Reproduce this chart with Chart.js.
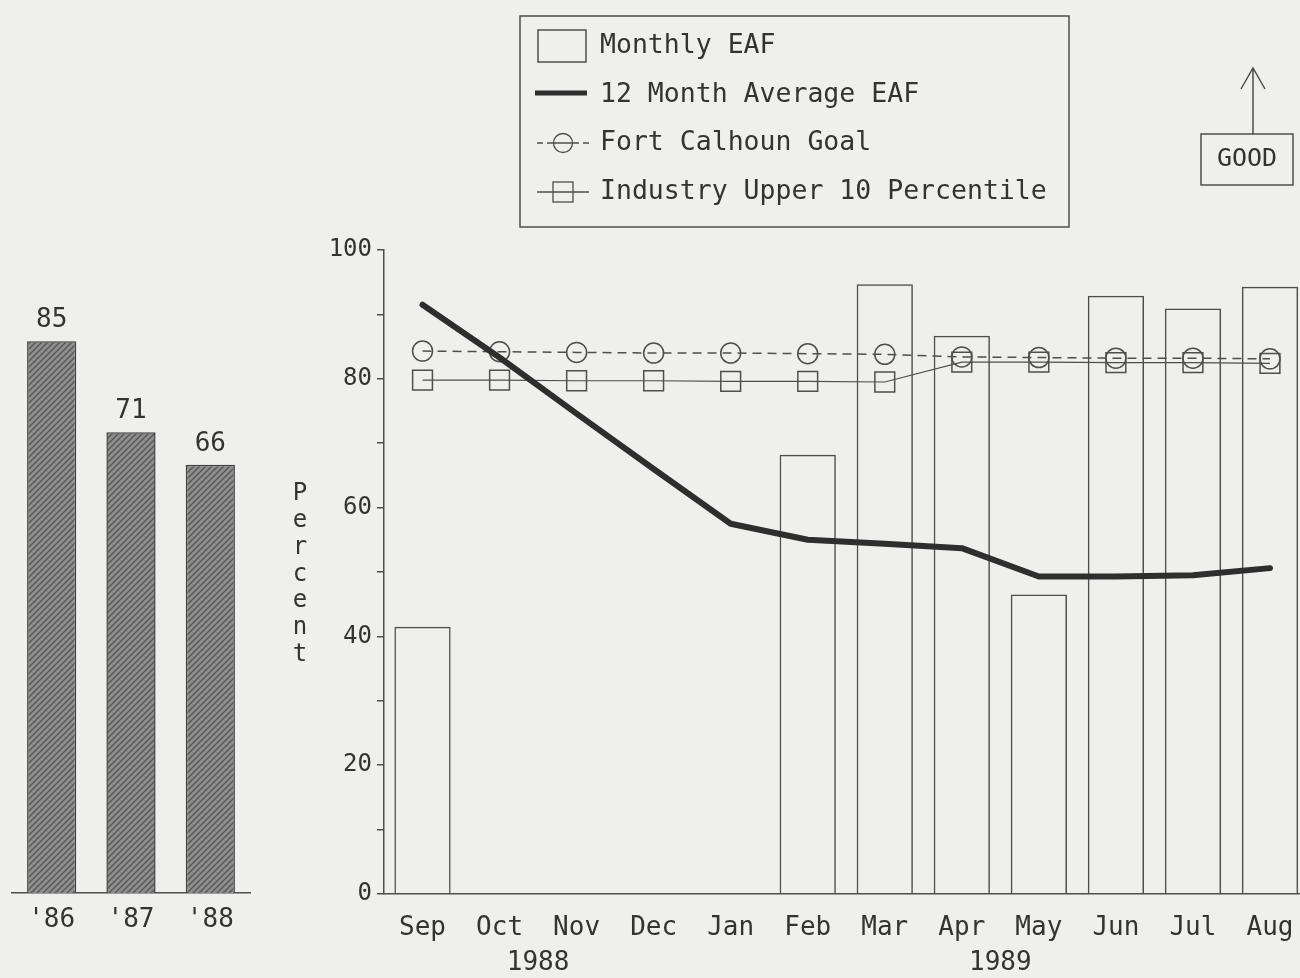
<!DOCTYPE html>
<html>
<head>
<meta charset="utf-8">
<script src="https://cdn.jsdelivr.net/npm/chart.js@4.4.0/dist/chart.umd.min.js"></script>
<style>
  html, body { margin: 0; padding: 0; background: #efefed; overflow: hidden; }
  #wrap { position: relative; width: 1300px; height: 978px; overflow: hidden; background: #efefed; }
  #yearly { position: absolute; left: 0; top: 0; }
  #monthly { position: absolute; left: 260px; top: 0; }
</style>
</head>
<body>
<div id="wrap">
  <canvas id="yearly" width="260" height="978"></canvas>
  <canvas id="monthly" width="1064" height="978"></canvas>
</div>
<script>
// ---- data ----
const yearLabels = ["'86", "'87", "'88"];
const yearlyEAF = [85, 71, 66];

const months = ['Sep', 'Oct', 'Nov', 'Dec', 'Jan', 'Feb', 'Mar', 'Apr', 'May', 'Jun', 'Jul', 'Aug'];
const monthlyEAF = [41.5, null, null, null, null, 68.2, 94.7, 86.7, 46.5, 92.9, 90.9, 94.3];
const avgEAF = [91.5, 83.3, 74.6, 66.0, 57.5, 55.0, 54.4, 53.7, 49.3, 49.3, 49.5, 50.6];
const goalEAF = [84.3, 84.2, 84.1, 84.0, 84.0, 83.9, 83.8, 83.4, 83.3, 83.2, 83.2, 83.1];
const industryEAF = [79.8, 79.8, 79.7, 79.7, 79.6, 79.6, 79.5, 82.6, 82.6, 82.5, 82.5, 82.4];

const yearSpans = ['1988', '1989'];
const yearSpanStart = [0, 4];
const yearSpanEnd = [3, 11];

const seriesNames = ['Monthly EAF', '12 Month Average EAF', 'Fort Calhoun Goal', 'Industry Upper 10 Percentile'];
const axisTitle = 'Percent';
const noteText = 'GOOD';

// ---- styling ----
const FONT = '"DejaVu Sans Mono", "Liberation Mono", monospace';
const INK = '#333333';
const THIN = '#4e4e4e';

// diagonal hatch used on the yearly bars
function makeHatch(ctx) {
  const c = document.createElement('canvas');
  c.width = 6; c.height = 6;
  const g = c.getContext('2d');
  g.fillStyle = '#8e8e8e';
  g.fillRect(0, 0, 6, 6);
  g.strokeStyle = '#555555';
  g.lineWidth = 1.3;
  g.beginPath();
  g.moveTo(0, 6); g.lineTo(6, 0);
  g.moveTo(-3, 3); g.lineTo(3, -3);
  g.moveTo(3, 9); g.lineTo(9, 3);
  g.stroke();
  return ctx.createPattern(c, 'repeat');
}

// value captions above the yearly bars
const barValueLabels = {
  id: 'barValueLabels',
  afterDatasetsDraw(chart) {
    const ctx = chart.ctx;
    const meta = chart.getDatasetMeta(0);
    ctx.save();
    ctx.font = '26px ' + FONT;
    ctx.fillStyle = INK;
    ctx.textAlign = 'center';
    ctx.textBaseline = 'alphabetic';
    meta.data.forEach((bar, i) => {
      ctx.fillText(String(chart.data.datasets[0].data[i]), bar.x, bar.y - 14);
    });
    ctx.restore();
  }
};

const yearlyCanvas = document.getElementById('yearly');
new Chart(yearlyCanvas, {
  type: 'bar',
  data: {
    labels: yearLabels,
    datasets: [{
      data: yearlyEAF,
      backgroundColor: makeHatch(yearlyCanvas.getContext('2d')),
      borderColor: '#404040',
      borderWidth: 1.5,
      barPercentage: 0.62,
      categoryPercentage: 1
    }]
  },
  options: {
    responsive: false,
    animation: false,
    layout: { padding: { top: 244, left: 12, right: 10, bottom: 0 } },
    plugins: { legend: { display: false }, tooltip: { enabled: false } },
    scales: {
      x: {
        grid: { display: false, drawTicks: false },
        border: { display: true, color: THIN, width: 1.5 },
        ticks: { font: { family: FONT, size: 26 }, color: INK, padding: 12 },
        afterFit(s) { s.height = 85; }
      },
      y: { display: false, min: 0, max: 100 }
    }
  },
  plugins: [barValueLabels]
});

// legend, note box, stacked axis title and year captions for the monthly chart
const monthlyExtras = {
  id: 'monthlyExtras',
  afterDraw(chart) {
    const ctx = chart.ctx;
    const ox = -260; // canvas sits 260px from the page's left edge
    ctx.save();
    ctx.fillStyle = INK;
    ctx.strokeStyle = THIN;

    // legend box
    ctx.lineWidth = 1.5;
    ctx.strokeRect(520 + ox, 16, 549, 211);
    ctx.font = '26.5px ' + FONT;
    ctx.textAlign = 'left';
    ctx.textBaseline = 'middle';
    const rowY = [46, 95, 143, 192];
    // bar swatch
    ctx.lineWidth = 1.5;
    ctx.strokeRect(538 + ox, 30, 48, 32);
    // thick line swatch
    ctx.save();
    ctx.strokeStyle = '#2e2e2e';
    ctx.lineWidth = 5;
    ctx.beginPath(); ctx.moveTo(535 + ox, rowY[1] - 2); ctx.lineTo(587 + ox, rowY[1] - 2); ctx.stroke();
    ctx.restore();
    // dashed line with circle
    ctx.lineWidth = 1.3;
    ctx.beginPath();
    ctx.moveTo(537 + ox, rowY[2]); ctx.lineTo(543 + ox, rowY[2]);
    ctx.moveTo(547 + ox, rowY[2]); ctx.lineTo(579 + ox, rowY[2]);
    ctx.moveTo(583 + ox, rowY[2]); ctx.lineTo(589 + ox, rowY[2]);
    ctx.stroke();
    ctx.beginPath(); ctx.arc(563 + ox, rowY[2], 9.5, 0, Math.PI * 2); ctx.stroke();
    // line with square
    ctx.beginPath(); ctx.moveTo(537 + ox, rowY[3]); ctx.lineTo(589 + ox, rowY[3]); ctx.stroke();
    ctx.strokeRect(553 + ox, rowY[3] - 10, 20, 20);
    seriesNames.forEach((name, i) => ctx.fillText(name, 600 + ox, rowY[i]));

    // note box with arrow
    ctx.lineWidth = 1.5;
    ctx.strokeRect(1201 + ox, 134, 92, 51);
    ctx.beginPath();
    ctx.moveTo(1253 + ox, 134); ctx.lineTo(1253 + ox, 68);
    ctx.moveTo(1241 + ox, 89); ctx.lineTo(1253 + ox, 68); ctx.lineTo(1265 + ox, 89);
    ctx.stroke();
    ctx.font = '25px ' + FONT;
    ctx.textAlign = 'center';
    ctx.fillText(noteText, 1247 + ox, 159);

    // vertical stacked axis title
    ctx.font = '24px ' + FONT;
    axisTitle.split('').forEach((ch, i) => ctx.fillText(ch, 300 + ox, 494 + i * 26.8));

    // year captions centred beneath their months
    const xs = chart.scales.x;
    ctx.font = '26px ' + FONT;
    yearSpans.forEach((yr, i) => {
      const cx = (xs.getPixelForValue(yearSpanStart[i]) + xs.getPixelForValue(yearSpanEnd[i])) / 2;
      ctx.fillText(yr, cx, 963);
    });
    ctx.restore();
  }
};

new Chart(document.getElementById('monthly'), {
  data: {
    labels: months,
    datasets: [
      {
        type: 'bar',
        label: seriesNames[0],
        data: monthlyEAF,
        backgroundColor: 'rgba(0,0,0,0)',
        borderColor: THIN,
        borderWidth: 1.5,
        barPercentage: 0.73,
        categoryPercentage: 1,
        order: 4
      },
      {
        type: 'line',
        label: seriesNames[3],
        data: industryEAF,
        borderColor: THIN,
        borderWidth: 1.2,
        pointStyle: 'rect',
        pointRadius: 14,
        pointBackgroundColor: 'rgba(0,0,0,0)',
        pointBorderColor: THIN,
        pointBorderWidth: 1.5,
        tension: 0,
        order: 3
      },
      {
        type: 'line',
        label: seriesNames[2],
        data: goalEAF,
        borderColor: THIN,
        borderWidth: 1.5,
        borderDash: [9, 6],
        pointStyle: 'circle',
        pointRadius: 10,
        pointBackgroundColor: 'rgba(0,0,0,0)',
        pointBorderColor: THIN,
        pointBorderWidth: 1.5,
        tension: 0,
        order: 2
      },
      {
        type: 'line',
        label: seriesNames[1],
        data: avgEAF,
        borderColor: '#2e2e2e',
        borderWidth: 6,
        borderCapStyle: 'round',
        borderJoinStyle: 'round',
        pointRadius: 0,
        tension: 0,
        order: 1
      }
    ]
  },
  options: {
    responsive: false,
    animation: false,
    layout: { padding: { top: 250, left: 0, right: 2, bottom: 0 } },
    plugins: { legend: { display: false }, tooltip: { enabled: false } },
    scales: {
      x: {
        grid: { display: false, drawTicks: false },
        border: { display: true, color: THIN, width: 1.5 },
        ticks: { font: { family: FONT, size: 26 }, color: INK, padding: 19 },
        afterFit(s) { s.height = 84; }
      },
      y: {
        min: 0,
        max: 100,
        ticks: {
          stepSize: 10,
          font: { family: FONT, size: 24 },
          color: INK,
          padding: 5,
          callback: v => (v % 20 === 0 ? String(v) : '')
        },
        grid: { drawOnChartArea: false, tickLength: 7, color: THIN, lineWidth: 1.5 },
        border: { display: true, color: THIN, width: 1.5 },
        afterFit(s) { s.width = 124; }
      }
    }
  },
  plugins: [monthlyExtras]
});
</script>
</body>
</html>
